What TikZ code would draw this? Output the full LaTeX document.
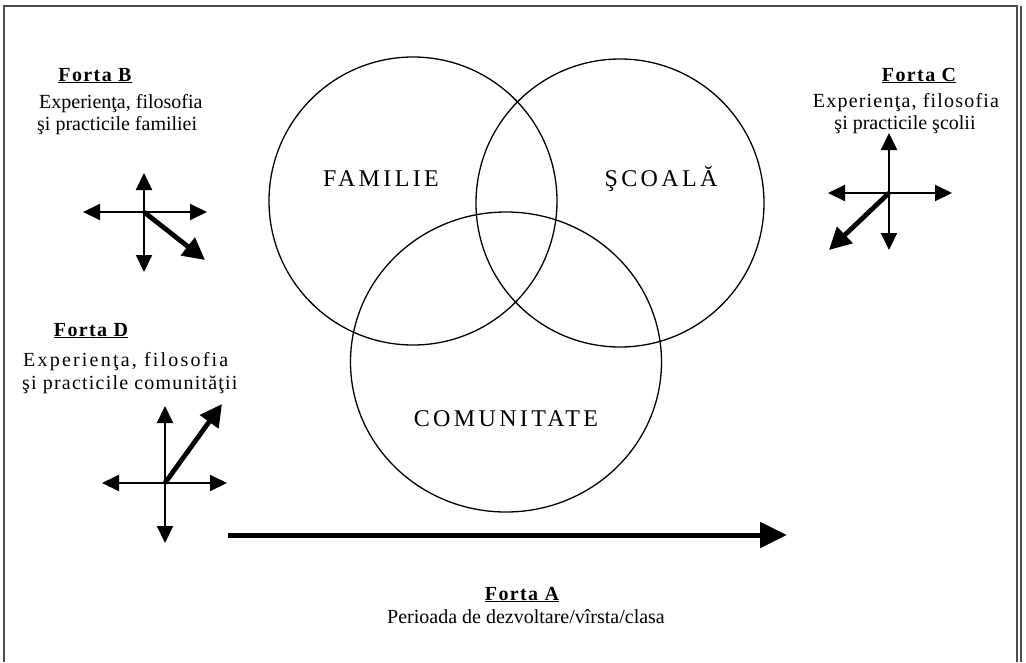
\documentclass[tikz,border=0pt]{standalone}
\usepackage{fontspec}
\setmainfont{Liberation Serif}
\usetikzlibrary{arrows.meta,shapes.geometric}

\tikzset{
  sphere/.style={draw,line width=1.3pt,inner sep=0pt},
  sphere label/.style={anchor=base,inner sep=0pt,
    font=\fontsize{24}{28}\selectfont\addfontfeatures{LetterSpace=14}},
  force title/.style={anchor=base,inner sep=0pt,
    font=\fontsize{20}{23}\selectfont\bfseries\addfontfeatures{LetterSpace=7}},
  force text/.style={inner sep=0pt,font=\fontsize{20}{23}\selectfont},
  axis/.style={line width=2pt,-{Triangle[length=17pt,width=16pt]}},
  pull/.style={line width=4.8pt,-{Triangle[length=22pt,width=22pt]}},
  time/.style={line width=5pt,-{Triangle[length=27pt,width=25pt]}},
  frame/.style={draw=black!70,line width=1.8pt}
}

\begin{document}
\begin{tikzpicture}[x=1pt,y=-1pt]
  \useasboundingbox (0,0) rectangle (1026,662);

  % frame
  \draw[frame] (4,662) -- (4,6) -- (1017,6) -- (1017,662);
  \draw[frame,line width=1.4pt] (1021,6) -- (1021,662);

  % overlapping spheres
  \node[sphere,circle,minimum size=288pt] (familie) at (413,201) {};
  \node[sphere,circle,minimum size=288pt] (scoala) at (620,203) {};
  \node[sphere,ellipse,minimum width=311pt,minimum height=300pt] (comunitate) at (506,362) {};
  \node[sphere label] (familie label) at (381,186) {FAMILIE};
  \node[sphere label] (scoala label) at (661,186) {ŞCOALĂ};
  \node[sphere label] (comunitate label) at (506,426) {COMUNITATE};

  % Forta B
  \node[force title] (fb) at (95,81) {\underline{Forta B}};
  \node[force text,anchor=base west] (fb1) at (39,108) {Experienţa, filosofia};
  \node[force text,anchor=base west] (fb2) at (37,130) {şi practicile familiei};
  \coordinate (bc) at (144,212);
  \coordinate (bu) at (144,173);
  \coordinate (bd) at (144,272);
  \coordinate (bl) at (83,212);
  \coordinate (br) at (207,212);
  \coordinate (bf) at (205,260);
  \draw[axis] (bc) -- (bu);
  \draw[axis] (bc) -- (bd);
  \draw[axis] (bc) -- (bl);
  \draw[axis] (bc) -- (br);
  \draw[pull] (bc) -- (bf);

  % Forta C
  \node[force title] (fc) at (919,81) {\underline{Forta C}};
  \node[force text,anchor=base,font=\fontsize{20}{23}\selectfont\addfontfeatures{LetterSpace=6}] (fc1) at (906,107) {Experienţa, filosofia};
  \node[force text,anchor=base] (fc2) at (905,129) {şi practicile şcolii};
  \coordinate (cc) at (889,193);
  \coordinate (cu) at (889,133);
  \coordinate (cd) at (889,250);
  \coordinate (cl) at (828,193);
  \coordinate (cr) at (952,193);
  \coordinate (cf) at (829,250);
  \draw[axis] (cc) -- (cu);
  \draw[axis] (cc) -- (cd);
  \draw[axis] (cc) -- (cl);
  \draw[axis] (cc) -- (cr);
  \draw[pull] (cc) -- (cf);

  % Forta D
  \node[force title] (fd) at (91,336) {\underline{Forta D}};
  \node[force text,anchor=base west,font=\fontsize{20}{23}\selectfont\addfontfeatures{LetterSpace=11}] (fd1) at (23,366) {Experienţa, filosofia};
  \node[force text,anchor=base west,font=\fontsize{20}{23}\selectfont\addfontfeatures{LetterSpace=6}] (fd2) at (22,389) {şi practicile comunităţii};
  \coordinate (dc) at (165,483);
  \coordinate (du) at (165,406);
  \coordinate (dd) at (165,543);
  \coordinate (dl) at (102,483);
  \coordinate (dr) at (227,483);
  \coordinate (df) at (222,404);
  \draw[axis] (dc) -- (du);
  \draw[axis] (dc) -- (dd);
  \draw[axis] (dc) -- (dl);
  \draw[axis] (dc) -- (dr);
  \draw[pull] (dc) -- (df);

  % Forta A
  \coordinate (as) at (228,535);
  \coordinate (ae) at (787,535);
  \draw[time] (as) -- (ae);
  \node[force title] (fa) at (522,600) {\underline{Forta A}};
  \node[force text,anchor=base] (fa1) at (526,623) {Perioada de dezvoltare/vîrsta/clasa};

\end{tikzpicture}
\end{document}
